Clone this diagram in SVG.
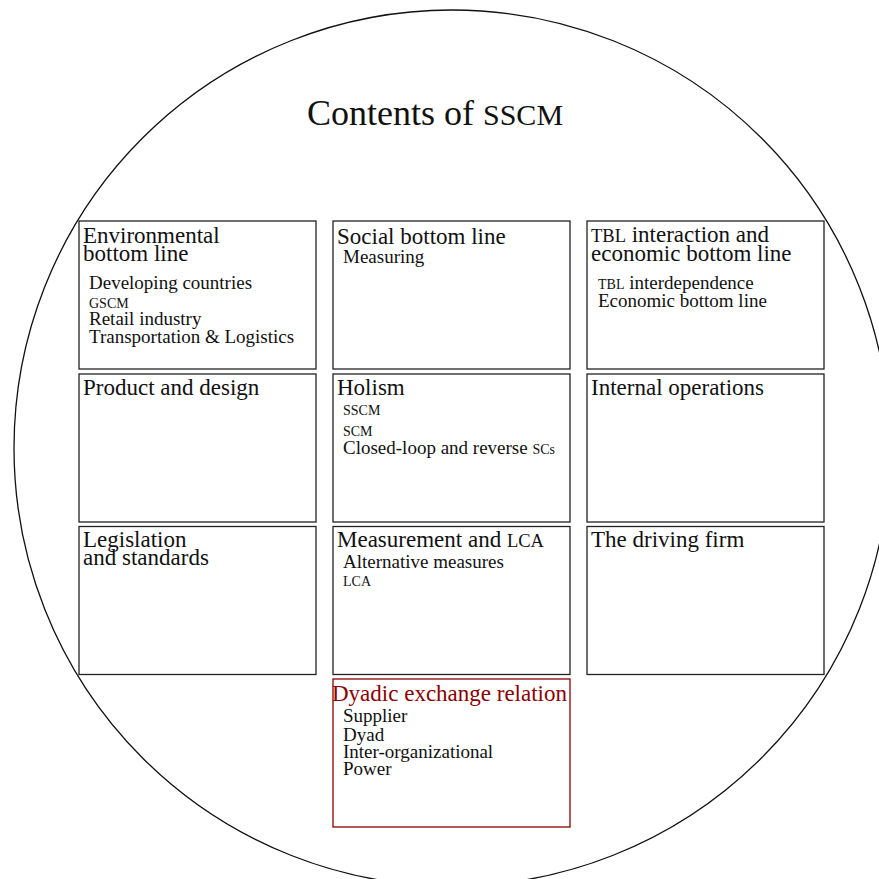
<svg xmlns="http://www.w3.org/2000/svg" width="879" height="879" viewBox="0 0 879 879">
  <style>
    text { font-family: "Liberation Serif", "Times New Roman", serif; fill: #111; }
    .box { fill: none; stroke: #222; stroke-width: 1.3; }
    .box-hl { fill: none; stroke: #8b0000; stroke-width: 1.3; }
    .head { font-size: 23px; }
    .head-hl { font-size: 23px; fill: #8b0000; }
    .item { font-size: 19px; }
    .sc { font-size: 14px; }
    .sc-head { font-size: 18.5px; }
    .title { font-size: 36px; }
    .title-sc { font-size: 30px; }
  </style>

  <rect width="879" height="879" fill="#fff"/>

  <!-- enclosing circle -->
  <circle cx="452" cy="448" r="438" fill="none" stroke="#111" stroke-width="1.3"/>

  <text x="307" y="125" class="title">Contents of <tspan class="title-sc">SSCM</tspan></text>

  <g id="connectors"/>

  <!-- row 1 -->
  <g id="environmental">
    <rect class="box" x="79" y="221" width="237" height="148"/>
    <text x="83" y="242.5" class="head">Environmental</text>
    <text x="83" y="261" class="head">bottom line</text>
    <text x="89" y="289" class="item">Developing countries</text>
    <text x="89" y="307.5" class="sc">GSCM</text>
    <text x="89" y="325" class="item">Retail industry</text>
    <text x="89" y="343" class="item">Transportation &amp; Logistics</text>
  </g>

  <g id="social">
    <rect class="box" x="333" y="221" width="237" height="148"/>
    <text x="337" y="244" class="head">Social bottom line</text>
    <text x="343" y="263" class="item">Measuring</text>
  </g>

  <g id="tbl">
    <rect class="box" x="587" y="221" width="237" height="148"/>
    <text x="591" y="242" class="head"><tspan class="sc-head">TBL</tspan> interaction and</text>
    <text x="591" y="261" class="head">economic bottom line</text>
    <text x="598" y="288.5" class="item"><tspan class="sc">TBL</tspan> interdependence</text>
    <text x="598" y="307" class="item">Economic bottom line</text>
  </g>

  <!-- row 2 -->
  <g id="product">
    <rect class="box" x="79" y="374" width="237" height="148"/>
    <text x="83" y="395" class="head">Product and design</text>
  </g>

  <g id="holism">
    <rect class="box" x="333" y="374" width="237" height="148"/>
    <text x="337" y="395" class="head">Holism</text>
    <text x="343" y="415" class="sc">SSCM</text>
    <text x="343" y="435.5" class="sc">SCM</text>
    <text x="343" y="454" class="item">Closed-loop and reverse <tspan class="sc">SCs</tspan></text>
  </g>

  <g id="internal">
    <rect class="box" x="587" y="374" width="237" height="148"/>
    <text x="591" y="395" class="head">Internal operations</text>
  </g>

  <!-- row 3 -->
  <g id="legislation">
    <rect class="box" x="79" y="526.5" width="237" height="148"/>
    <text x="83" y="547" class="head">Legislation</text>
    <text x="83" y="565" class="head">and standards</text>
  </g>

  <g id="measurement">
    <rect class="box" x="333" y="526.5" width="237" height="148"/>
    <text x="337" y="547" class="head">Measurement and <tspan class="sc-head">LCA</tspan></text>
    <text x="343" y="567.5" class="item">Alternative measures</text>
    <text x="343" y="586" class="sc">LCA</text>
  </g>

  <g id="driving">
    <rect class="box" x="587" y="526.5" width="237" height="148"/>
    <text x="591" y="547" class="head">The driving firm</text>
  </g>

  <!-- row 4 -->
  <g id="dyadic">
    <rect class="box-hl" x="333" y="679" width="237" height="148"/>
    <text x="332" y="700.5" class="head-hl">Dyadic exchange relation</text>
    <text x="343" y="722" class="item">Supplier</text>
    <text x="343" y="740.5" class="item">Dyad</text>
    <text x="343" y="758" class="item">Inter-organizational</text>
    <text x="343" y="775" class="item">Power</text>
  </g>
</svg>
